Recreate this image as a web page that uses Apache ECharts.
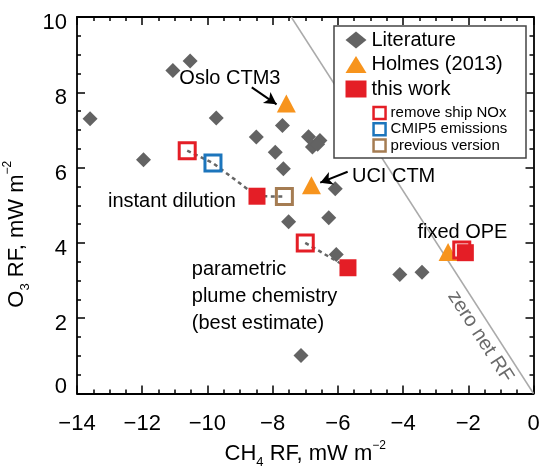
<!DOCTYPE html>
<html><head><meta charset="utf-8">
<script src="https://cdn.jsdelivr.net/npm/echarts@6/dist/echarts.min.js"></script>
<style>html,body{margin:0;padding:0;background:#fff}#c{width:543px;height:466px}</style>
</head><body><div id="c"></div>
<script>
// ---- data (CH4 RF, O3 RF) in mW m-2 ----
const literature = [
  [-10.53, 8.83], [-11.06, 8.58], [-13.6, 7.30], [-9.73, 7.32], [-7.70, 7.12],
  [-8.50, 6.81], [-6.90, 6.82], [-6.55, 6.72], [-6.78, 6.55], [-6.62, 6.62],
  [-7.92, 6.41], [-11.96, 6.21], [-7.67, 5.97], [-6.08, 5.44], [-7.51, 4.56],
  [-6.28, 4.67], [-6.05, 3.69], [-7.13, 1.01], [-4.10, 3.16], [-3.42, 3.22]
];
const holmes2013 = [[-7.58, 7.70], [-6.81, 5.53], [-2.62, 3.76]];
const thisWork = [[-8.48, 5.24], [-5.69, 3.34], [-2.09, 3.74]];
const removeShipNOx = [[-10.62, 6.45], [-7.00, 4.00], [-2.20, 3.81]];
const cmip5Emissions = [[-9.83, 6.12]];
const previousVersion = [[-7.64, 5.23]];
const zeroNetRF = [[-7.43, 10], [0, 0]];
const xTickRange = [-14, 0, 2];
const yTickRange = [0, 10, 2];

// connectors between sensitivity runs
const chainInstant = [removeShipNOx[0], cmip5Emissions[0], thisWork[0], previousVersion[0]];
const chainParam = [removeShipNOx[1], thisWork[1]];

// annotation anchors (data coords)
const notes = [
  { name: 'Oslo CTM3', value: [-9.31, 8.37] },
  { name: 'UCI CTM', value: [-4.29, 5.76] },
  { name: 'instant dilution', value: [-11.09, 5.11] },
  { name: 'parametric\nplume chemistry\n(best estimate)', value: [-10.48, 2.58], label: { align: 'left', lineHeight: 26.7 } },
  { name: 'fixed OPE', value: [-2.18, 4.27] },
  { name: 'zero net RF', value: [-1.63, 1.51], label: { rotate: -57.2, color: '#6a6a6a' } }
];
const arrows = [
  [{ coord: [-8.64, 8.13] }, { coord: [-7.88, 7.68] }],
  [{ coord: [-5.70, 5.89] }, { coord: [-6.54, 5.60] }]
];

const FF = "'Liberation Sans', Arial, Helvetica, sans-serif";
const RED = '#e41e26', ORANGE = '#f7941d', GRAY = '#636363', BLUE = '#1c75bc', BROWN = '#a57c52';

const chart = echarts.init(document.getElementById('c'), null, { renderer: 'canvas' });

function fmtX(v) { return v < 0 ? '\u2212' + Math.abs(v) : String(v); }
const titleRich = {
  sub: { fontSize: 13, lineHeight: 12, verticalAlign: 'bottom', fontFamily: FF, color: '#000' },
  sup: { fontSize: 12, lineHeight: 26, verticalAlign: 'top', fontFamily: FF, color: '#000' }
};
const axisCommon = {
  type: 'value',
  axisLine: { show: true, onZero: false, lineStyle: { color: '#000', width: 1.8 } },
  axisTick: { show: true, inside: true, length: 8, lineStyle: { color: '#000', width: 1.5 } },
  minorTick: { show: true, splitNumber: 4, length: 4, lineStyle: { color: '#000', width: 1.5 } },
  splitLine: { show: false }
};

chart.setOption({
  animation: false,
  backgroundColor: '#fff',
  grid: { left: 77, right: 9.5, top: 17, bottom: 72.5, containLabel: false, outerBoundsMode: 'none' },
  xAxis: [
    Object.assign({}, axisCommon, {
      min: xTickRange[0], max: xTickRange[1], interval: xTickRange[2], position: 'bottom',
      axisLabel: { show: true, margin: 19, fontSize: 22, fontFamily: FF, color: '#000', formatter: fmtX },
      name: 'CH{sub|4} RF, mW m{sup|\u22122}', nameLocation: 'middle', nameGap: 27,
      nameTextStyle: { fontSize: 22, lineHeight: 30, fontFamily: FF, color: '#000', rich: titleRich }
    }),
    Object.assign({}, axisCommon, {
      min: xTickRange[0], max: xTickRange[1], interval: xTickRange[2], position: 'top',
      axisLabel: { show: false }
    })
  ],
  yAxis: [
    Object.assign({}, axisCommon, {
      min: yTickRange[0], max: yTickRange[1], interval: yTickRange[2], position: 'left',
      axisLabel: {
        show: true, margin: 10, fontSize: 22, fontFamily: FF, color: '#000',
        formatter: function (v) { return v === 0 ? '{z|0}' : '{n|' + v + '}'; },
        rich: {
          n: { fontSize: 22, fontFamily: FF, color: '#000', padding: [12, 0, 0, 0] },
          z: { fontSize: 22, fontFamily: FF, color: '#000', padding: [0, 0, 14, 0] }
        }
      },
      name: 'O{sub|3} RF, mW m{sup|\u22122}', nameLocation: 'middle', nameGap: 29, nameRotate: 90,
      nameTextStyle: { fontSize: 22, lineHeight: 30, fontFamily: FF, color: '#000', rich: titleRich, padding: [0, 58, 0, 0] }
    }),
    Object.assign({}, axisCommon, {
      min: yTickRange[0], max: yTickRange[1], interval: yTickRange[2], position: 'right',
      axisLabel: { show: false }
    })
  ],
  legend: [
    {
      orient: 'vertical', left: 345.5, top: 30, padding: 0, itemWidth: 21, itemHeight: 17, itemGap: 4.5,
      selectedMode: false, z: 5,
      textStyle: { fontSize: 20, fontFamily: FF, color: '#000' },
      data: [
        { name: 'Literature', icon: 'diamond' },
        { name: 'Holmes (2013)', icon: 'triangle' },
        { name: 'this work', icon: 'rect' }
      ]
    },
    {
      orient: 'vertical', left: 372.3, top: 105.5, padding: 0, itemWidth: 12, itemHeight: 12, itemGap: 1.2,
      selectedMode: false, z: 5,
      textStyle: { fontSize: 15, fontFamily: FF, color: '#000' },
      data: [
        { name: 'remove ship NOx', icon: 'rect', itemStyle: { color: '#fff', borderColor: RED, borderWidth: 2.5 } },
        { name: 'CMIP5 emissions', icon: 'rect', itemStyle: { color: '#fff', borderColor: BLUE, borderWidth: 2.5 } },
        { name: 'previous version', icon: 'rect', itemStyle: { color: '#fff', borderColor: BROWN, borderWidth: 2.5 } }
      ]
    }
  ],
  graphic: [
    { type: 'rect', z: 3, silent: true, shape: { x: 334, y: 26, width: 192, height: 132 },
      style: { fill: '#fff', stroke: '#444', lineWidth: 1.5 } }
  ],
  series: [
    { type: 'line', name: 'zero net RF line', data: zeroNetRF, symbol: 'none', silent: true,
      lineStyle: { color: '#aaaaaa', width: 1.5 }, z: 1 },
    { type: 'line', name: 'instant dilution runs', data: chainInstant, symbol: 'none', silent: true,
      lineStyle: { color: '#666', width: 2.5, type: [4, 3.5] }, z: 1 },
    { type: 'line', name: 'parametric runs', data: chainParam, symbol: 'none', silent: true,
      lineStyle: { color: '#666', width: 2.5, type: [4, 3.5] }, z: 1 },
    { type: 'scatter', name: 'Literature', data: literature, symbol: 'diamond', symbolSize: 15,
      itemStyle: { color: GRAY, opacity: 1 }, silent: true },
    { type: 'scatter', name: 'Holmes (2013)', data: holmes2013, symbol: 'triangle', symbolSize: [19, 18],
      itemStyle: { color: ORANGE, opacity: 1 }, silent: true },
    { type: 'scatter', name: 'remove ship NOx', data: removeShipNOx, symbol: 'rect', symbolSize: 16,
      itemStyle: { color: 'rgba(255,255,255,0)', borderColor: RED, borderWidth: 3, opacity: 1 }, silent: true },
    { type: 'scatter', name: 'CMIP5 emissions', data: cmip5Emissions, symbol: 'rect', symbolSize: 16,
      itemStyle: { color: 'rgba(255,255,255,0)', borderColor: BLUE, borderWidth: 3, opacity: 1 }, silent: true },
    { type: 'scatter', name: 'previous version', data: previousVersion, symbol: 'rect', symbolSize: 16,
      itemStyle: { color: 'rgba(255,255,255,0)', borderColor: BROWN, borderWidth: 3, opacity: 1 }, silent: true },
    { type: 'scatter', name: 'this work', data: thisWork, symbol: 'rect', symbolSize: 17,
      itemStyle: { color: RED, opacity: 1 }, silent: true },
    { type: 'scatter', name: 'annotations', data: notes, symbol: 'circle', symbolSize: 1, silent: true,
      itemStyle: { color: 'rgba(0,0,0,0)', opacity: 1 },
      label: { show: true, position: 'inside', formatter: '{b}', fontSize: 20, fontFamily: FF, color: '#000' },
      markLine: {
        silent: true, symbol: ['none', 'arrow'], symbolSize: [10, 12], animation: false,
        label: { show: false },
        lineStyle: { color: '#000', width: 2, type: 'solid', curveness: -0.6, opacity: 1 },
        data: arrows
      }
    }
  ]
});
</script></body></html>
